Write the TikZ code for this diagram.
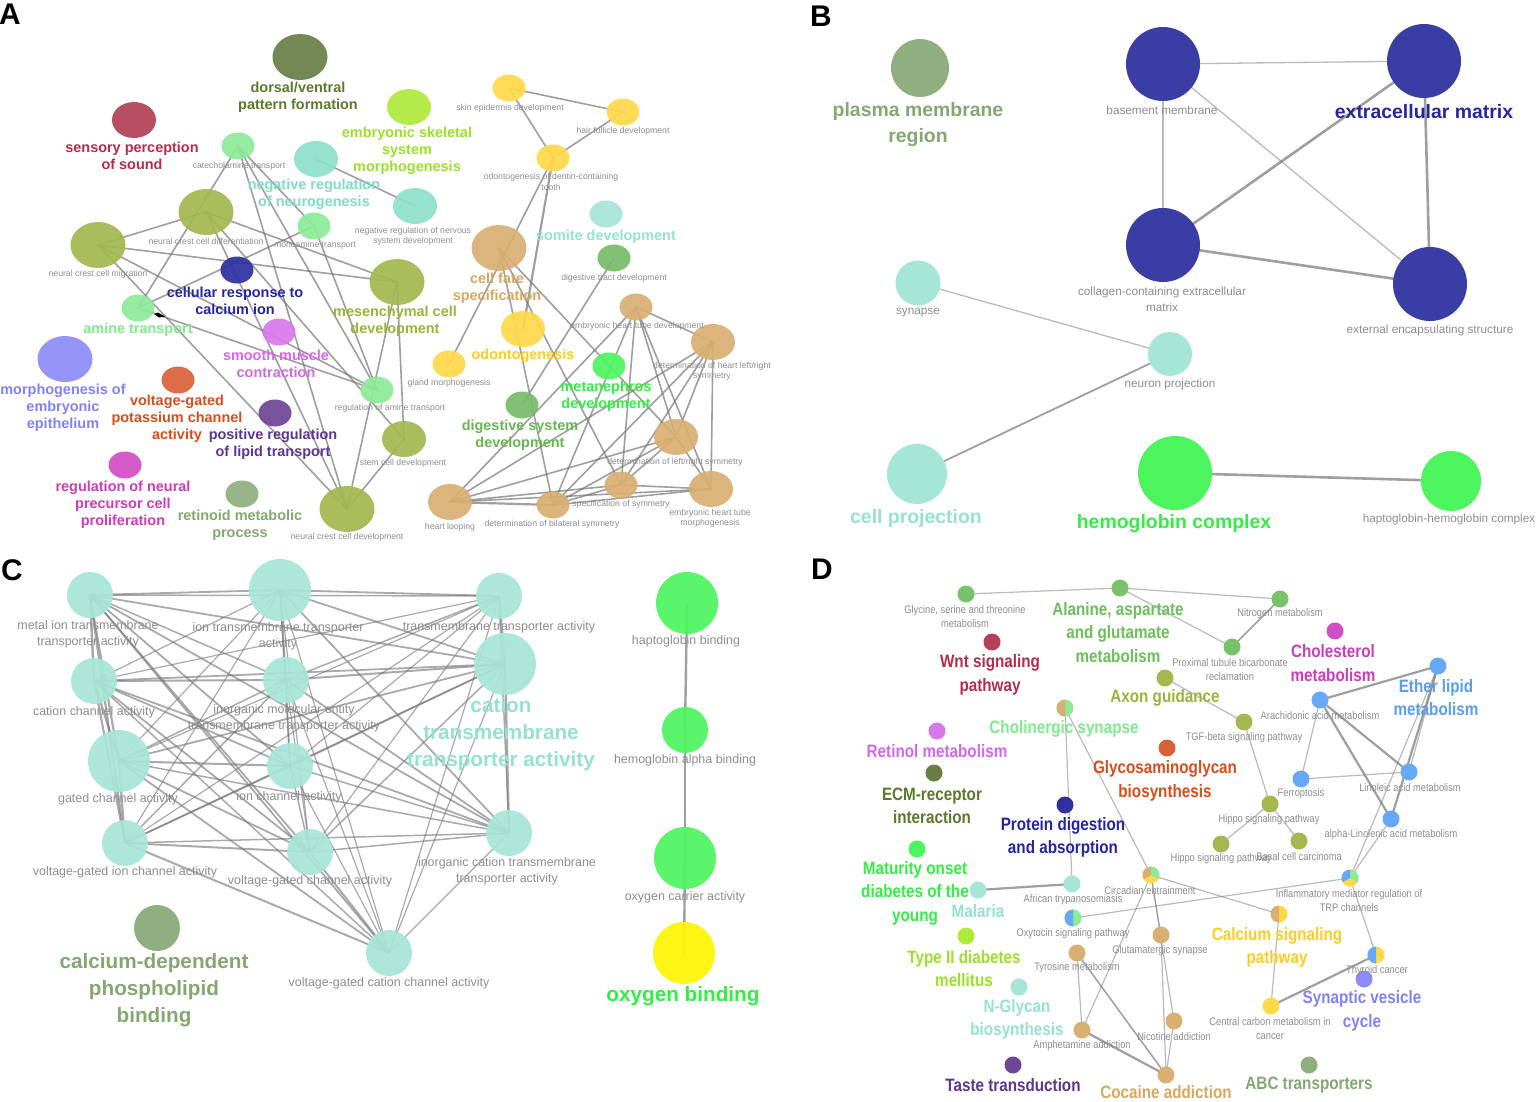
\documentclass[tikz,border=0pt]{standalone}
\usepackage{fontspec}
\setmainfont{Liberation Sans}
\newfontfamily\nar[FakeStretch=0.85]{Liberation Sans}
\usetikzlibrary{shapes.geometric}
\pgfdeclarelayer{bg}
\pgfdeclarelayer{paper}
\pgfsetlayers{paper,bg,main}
\definecolor{olv}{HTML}{A3B84F}\definecolor{olvT}{HTML}{9AB43C}
\definecolor{dol}{HTML}{6A7D45}\definecolor{dolT}{HTML}{5C7A2C}
\definecolor{crm}{HTML}{B24057}\definecolor{crmT}{HTML}{B02E4C}
\definecolor{lim}{HTML}{AEEA3C}\definecolor{limT}{HTML}{9CE02A}
\definecolor{lgr}{HTML}{8CEB98}\definecolor{lgrT}{HTML}{80EA8E}
\definecolor{aqu}{HTML}{8FE0C8}\definecolor{aquT}{HTML}{80DCC4}
\definecolor{pte}{HTML}{A6E6D6}\definecolor{pteT}{HTML}{96E2CF}
\definecolor{dbl}{HTML}{2E30A0}\definecolor{dblT}{HTML}{2626A0}
\definecolor{vio}{HTML}{D878EA}\definecolor{vioT}{HTML}{D468E8}
\definecolor{per}{HTML}{8C8CF8}\definecolor{perT}{HTML}{8282F2}
\definecolor{orr}{HTML}{D8613A}\definecolor{orrT}{HTML}{D64E1E}
\definecolor{pur}{HTML}{6F4596}\definecolor{purT}{HTML}{5E3590}
\definecolor{mag}{HTML}{D24EC4}\definecolor{magT}{HTML}{CC3CBC}
\definecolor{sag}{HTML}{8FAF80}\definecolor{sagT}{HTML}{84A872}
\definecolor{yel}{HTML}{FFD94A}\definecolor{yelT}{HTML}{FFCC22}
\definecolor{tnn}{HTML}{D9AF72}\definecolor{tnnT}{HTML}{D8A860}
\definecolor{grn}{HTML}{78BC68}\definecolor{grnT}{HTML}{66B852}
\definecolor{dgr}{HTML}{77C26A}\definecolor{dgrT}{HTML}{6CBF5A}
\definecolor{bgr}{HTML}{4CF55E}\definecolor{bgrT}{HTML}{33EE44}
\definecolor{oxy}{HTML}{FFF500}
\definecolor{dbu}{HTML}{68A8F8}\definecolor{dbuT}{HTML}{5A9EF0}
\definecolor{dbB}{HTML}{3A3DA3}
\definecolor{gtx}{HTML}{8E8E8E}
\definecolor{edg}{HTML}{777777}
\tikzset{
  bub/.style={ellipse, inner sep=0pt, outer sep=0pt, draw=none, fill opacity=0.92},
  bA/.style={bub, minimum width=55bp, minimum height=46bp},
  mA/.style={bub, minimum width=44bp, minimum height=36bp},
  sA/.style={bub, minimum width=33bp, minimum height=27bp},
  circ/.style={circle, inner sep=0pt, outer sep=0pt, draw=none, fill opacity=0.92, minimum size=#1bp},
  opq/.style={fill opacity=1},
  dn/.style={circ=17, opq},
  ed/.style={draw=edg, line width=#1bp, draw opacity=0.7, line cap=round},
  ed/.default=1.6,
  el/.style={draw=edg, line width=#1bp, draw opacity=0.5, line cap=round},
  el/.default=1.1,
  lA/.style={font=\fontsize{14.5}{17}\selectfont\bfseries, align=center, inner sep=0pt},
  tA/.style={font=\fontsize{8.7}{10.5}\selectfont, text=gtx, align=center, inner sep=0pt},
  lB/.style={font=\fontsize{19.5}{27}\selectfont\bfseries, align=center, inner sep=0pt},
  tB/.style={font=\fontsize{11.8}{16}\selectfont, text=gtx, align=center, inner sep=0pt},
  lC/.style={font=\fontsize{20.8}{27}\selectfont\bfseries, align=center, inner sep=0pt},
  tC/.style={font=\fontsize{12.5}{16}\selectfont, text=gtx, align=center, inner sep=0pt},
  lD/.style={font=\nar\bfseries\fontsize{18}{23.5}\selectfont, align=center, inner sep=0pt},
  tD/.style={font=\nar\fontsize{11}{14}\selectfont, text=gtx, align=center, inner sep=0pt},
  letter/.style={font=\fontsize{30}{30}\selectfont\bfseries, inner sep=0pt}
}
\begin{document}
\begin{tikzpicture}[x=1bp,y=-1bp]
\begin{pgfonlayer}{paper}
\fill[white] (0,0) rectangle (1536,1101);
\end{pgfonlayer}
\useasboundingbox (0,0) rectangle (1536,1101);
% ---------------- letters
\node[letter] (LetA) at (10,14) {A};
\node[letter] (LetB) at (821,16) {B};
\node[letter] (LetC) at (12,570) {C};
\node[letter] (LetD) at (822,569) {D};
% ---------------- panel A nodes
\node[bA, fill=dol] (dv) at (300,57) {};
\node[mA, fill=crm] (spos) at (134,120) {};
\node[mA, fill=lim] (ess) at (409,107) {};
\node[sA, fill=lgr] (cat) at (238,146) {};
\node[mA, fill=aqu] (nrn) at (316,159) {};
\node[mA, fill=aqu] (nrns) at (415,206) {};
\node[sA, fill=lgr] (mono) at (314,226) {};
\node[bA, fill=olv] (nccdiff) at (206,212) {};
\node[bA, fill=olv] (nccmig) at (98,245) {};
\node[sA, fill=dbl] (crc) at (237,270) {};
\node[sA, fill=lgr] (amine) at (138,308) {};
\node[bA, fill=olv] (mes) at (397,282) {};
\node[sA, fill=vio] (smc) at (279,332) {};
\node[bA, fill=per] (mee) at (65,359) {};
\node[sA, fill=orr] (vgk) at (178,380) {};
\node[sA, fill=pur] (prl) at (275,413) {};
\node[sA, fill=mag] (rnp) at (125,465) {};
\node[sA, fill=sag] (ret) at (242,494) {};
\node[sA, fill=lgr] (ram) at (377,390) {};
\node[mA, fill=olv] (scd) at (404,439) {};
\node[bA, fill=olv] (nccdev) at (347,509) {};
\node[sA, fill=yel] (skin) at (509,88) {};
\node[sA, fill=yel] (hair) at (623,112) {};
\node[sA, fill=yel] (dentin) at (553,158) {};
\node[sA, fill=pte] (somite) at (606,214) {};
\node[bA, fill=tnn] (cfs) at (499,248) {};
\node[sA, fill=grn] (dtd) at (614,258) {};
\node[mA, fill=yel] (odo) at (523,329) {};
\node[sA, fill=yel] (gland) at (449,364) {};
\node[sA, fill=tnn] (ehtd) at (636,307) {};
\node[mA, fill=tnn] (dhlr) at (713,342) {};
\node[sA, fill=bgr] (meta) at (609,366) {};
\node[sA, fill=grn] (dsd) at (522,405) {};
\node[mA, fill=tnn] (dlr) at (676,437) {};
\node[sA, fill=tnn] (spec) at (621,485) {};
\node[mA, fill=tnn] (ehtm) at (711,489) {};
\node[mA, fill=tnn] (hl) at (450,502) {};
\node[sA, fill=tnn] (dbs) at (553,505) {};
\fill[black] (154,314) -- (158,312.5) -- (165,316.5) -- (159,317.5) -- cycle;
% panel A labels
\node[lA, text=dolT] (Ldv) at (298,97.5) {dorsal/ventral\\pattern formation};
\node[lA, text=crmT] (Lspos) at (132,155.5) {sensory perception\\of sound};
\node[lA, text=limT] (Less) at (407,151) {embryonic skeletal\\system\\morphogenesis};
\node[tA] (Lcat) at (239,166) {catecholamine transport};
\node[lA, text=aquT] (Lnrn) at (314,194.5) {negative regulation\\of neurogenesis};
\node[tA] (Lnrns) at (413,236) {negative regulation of nervous\\system development};
\node[tA] (Lmono) at (315,245) {monoamine transport};
\node[tA] (Lnccdiff) at (206,241) {neural crest cell differentiation};
\node[tA] (Lnccmig) at (98,274) {neural crest cell migration};
\node[lA, text=dblT] (Lcrc) at (235,301) {cellular response to\\calcium ion};
\node[lA, text=lgrT] (Lamine) at (138,330) {amine transport};
\node[lA, text=olvT] (Lmes) at (395,321.5) {mesenchymal cell\\development};
\node[lA, text=vioT] (Lsmc) at (276,363.5) {smooth muscle\\contraction};
\node[lA, text=perT] (Lmee) at (63,408) {morphogenesis of\\embryonic\\epithelium};
\node[lA, text=orrT] (Lvgk) at (177,419) {voltage-gated\\potassium channel\\activity};
\node[lA, text=purT] (Lprl) at (273,444.5) {positive regulation\\of lipid transport};
\node[lA, text=magT] (Lrnp) at (123,504.5) {regulation of neural\\precursor cell\\proliferation};
\node[lA, text=sagT] (Lret) at (240,525.5) {retinoid metabolic\\process};
\node[tA] (Lram) at (390,408) {regulation of amine transport};
\node[tA] (Lscd) at (403,463) {stem cell development};
\node[tA] (Lnccdev) at (347,537) {neural crest cell development};
\node[tA] (Lskin) at (510,108) {skin epidermis development};
\node[tA] (Lhair) at (623,131) {hair follicle development};
\node[tA] (Ldentin) at (551,182) {odontogenesis of dentin-containing\\tooth};
\node[lA, text=pteT] (Lsomite) at (606,237) {somite development};
\node[lA, text=tnnT] (Lcfs) at (497,288.5) {cell fate\\specification};
\node[tA] (Ldtd) at (614,278) {digestive tract development};
\node[lA, text=yelT] (Lodo) at (523,356) {odontogenesis};
\node[tA] (Lgland) at (449,383) {gland morphogenesis};
\node[tA] (Lehtd) at (637,326) {embryonic heart tube development};
\node[tA] (Ldhlr) at (712,371.5) {determination of heart left/right\\symmetry};
\node[lA, text=bgrT] (Lmeta) at (606,396.5) {metanephros\\development};
\node[lA, text=grnT] (Ldsd) at (520,435.5) {digestive system\\development};
\node[tA] (Ldlr) at (675,462) {determination of left/right symmetry};
\node[tA] (Lspec) at (621,504) {specification of symmetry};
\node[tA] (Lehtm) at (710,518) {embryonic heart tube\\morphogenesis};
\node[tA] (Lhl) at (450,527) {heart looping};
\node[tA] (Ldbs) at (552,524) {determination of bilateral symmetry};
% ---------------- panel B
\node[circ=58, fill=sag, opq] (pmr) at (920,68) {};
\node[circ=74, fill=dbB, opq] (bm) at (1163,64) {};
\node[circ=74, fill=dbB, opq] (ecm) at (1424,61) {};
\node[circ=74, fill=dbB, opq] (col) at (1163,245) {};
\node[circ=74, fill=dbB, opq] (ext) at (1430,284) {};
\node[circ=45, fill=pte, opq] (syn) at (918,283) {};
\node[circ=44, fill=pte, opq] (np) at (1170,354) {};
\node[circ=60, fill=pte, opq] (cp) at (917,474) {};
\node[circ=74, fill=bgr, opq] (hc) at (1175,473) {};
\node[circ=60, fill=bgr, opq] (hhc) at (1451,481) {};
\node[lB, text=sagT] (Lpmr) at (918,124.5) {plasma membrane\\region};
\node[tB] (Lbm) at (1162,110) {basement membrane};
\node[lB, text=dblT] (Lecm) at (1424,112) {extracellular matrix};
\node[tB] (Lcol) at (1162,299) {collagen-containing extracellular\\matrix};
\node[tB] (Lext) at (1430,330) {external encapsulating structure};
\node[tB] (Lsyn) at (918,313) {synapse};
\node[tB] (Lnp) at (1170,384) {neuron projection};
\node[lB, text=pteT] (Lcp) at (916,518) {cell projection};
\node[lB, text=bgrT] (Lhc) at (1174,524) {hemoglobin complex};
\node[tB] (Lhhc) at (1449,519) {haptoglobin-hemoglobin complex};
% ---------------- panel C
\node[circ=46, fill=pte] (m) at (90,595) {};
\node[circ=62, fill=pte] (it) at (280,590) {};
\node[circ=46, fill=pte] (tt) at (499,596) {};
\node[circ=62, fill=pte] (ct) at (505,664) {};
\node[circ=46, fill=pte] (cc) at (94,681) {};
\node[circ=46, fill=pte] (im) at (286,680) {};
\node[circ=62, fill=pte] (gc) at (119,761) {};
\node[circ=46, fill=pte] (ic) at (290,766) {};
\node[circ=46, fill=pte] (ict) at (509,833) {};
\node[circ=46, fill=pte] (vgi) at (125,843) {};
\node[circ=46, fill=pte] (vgc) at (310,852) {};
\node[circ=46, fill=pte] (vgcc) at (389,953) {};
\node[circ=46, fill=sag, opq] (cdp) at (157,928) {};
\node[circ=62, fill=bgr] (hap) at (687,603) {};
\node[circ=46, fill=bgr] (hema) at (685,730) {};
\node[circ=62, fill=bgr] (oxc) at (685,858) {};
\node[circ=62, fill=oxy] (oxb) at (684,953) {};
\node[tC] (Lm) at (88,634) {metal ion transmembrane\\transporter activity};
\node[tC] (Lit) at (278,636) {ion transmembrane transporter\\activity};
\node[tC] (Ltt) at (499,627) {transmembrane transporter activity};
\node[lC, text=pteT] (Lct) at (501,734) {cation\\transmembrane\\transporter activity};
\node[tC] (Lcc) at (94,712) {cation channel activity};
\node[tC] (Lim) at (284,718.5) {inorganic molecular entity\\transmembrane transporter activity};
\node[tC] (Lgc) at (118,799) {gated channel activity};
\node[tC] (Lic) at (289,797) {ion channel activity};
\node[tC] (Lict) at (507,871) {inorganic cation transmembrane\\transporter activity};
\node[tC] (Lvgi) at (125,872) {voltage-gated ion channel activity};
\node[tC] (Lvgc) at (310,881) {voltage-gated channel activity};
\node[tC] (Lvgcc) at (389,983) {voltage-gated cation channel activity};
\node[lC, text=sagT] (Lcdp) at (154,990) {calcium-dependent\\phospholipid\\binding};
\node[tC] (Lhap) at (686,641) {haptoglobin binding};
\node[tC] (Lhema) at (685,760) {hemoglobin alpha binding};
\node[tC] (Loxc) at (685,897) {oxygen carrier activity};
\node[lC, text=bgrT] (Loxb) at (683,996) {oxygen binding};
% ---------------- panel D nodes
\node[dn, fill=dgr] (gly) at (966,594) {};
\node[dn, fill=dgr] (ala) at (1120,588) {};
\node[dn, fill=dgr] (nit) at (1280,599) {};
\node[dn, fill=dgr] (prox) at (1232,647) {};
\node[dn, fill=crm] (wnt) at (992,642) {};
\node[dn, fill=mag] (chs) at (1335,631) {};
\node[dn, fill=olv] (axon) at (1165,678) {};
\node[dn, fill=dbu] (eth) at (1438,666) {};
\node[dn, fill=lgr] (chol) at (1065,708) {};
\node[dn, fill=dbu] (arach) at (1320,700) {};
\node[dn, fill=olv] (tgf) at (1244,722) {};
\node[dn, fill=vio] (retn) at (937,731) {};
\node[dn, fill=orr] (gag) at (1167,748) {};
\node[dn, fill=dol] (ecmr) at (934,773) {};
\node[dn, fill=dbu] (ferro) at (1301,779) {};
\node[dn, fill=dbu] (lino) at (1409,772) {};
\node[dn, fill=dbl] (prot) at (1065,805) {};
\node[dn, fill=olv] (hip1) at (1270,804) {};
\node[dn, fill=dbu] (alin) at (1391,819) {};
\node[dn, fill=bgr] (mod) at (917,849) {};
\node[dn, fill=olv] (hip2) at (1221,844) {};
\node[dn, fill=olv] (basal) at (1299,841) {};
\node[dn, fill=yel] (circ) at (1151,875) {};
\node[dn, fill=yel] (infl) at (1350,878) {};
\node[dn, fill=pte] (mal) at (978,890) {};
\node[dn, fill=pte] (afr) at (1072,884) {};
\node[dn, fill=lgr] (oxyt) at (1073,918) {};
\node[dn, fill=yel] (calc) at (1279,914) {};
\node[dn, fill=lim] (t2d) at (966,936) {};
\node[dn, fill=tnn] (glut) at (1161,935) {};
\node[dn, fill=tnn] (tyr) at (1077,953) {};
\node[dn, fill=yel] (thy) at (1376,955) {};
\node[dn, fill=per] (svc) at (1364,979) {};
\node[dn, fill=pte] (ngly) at (1019,987) {};
\node[dn, fill=yel] (ccm) at (1271,1006) {};
\node[dn, fill=tnn] (nic) at (1174,1021) {};
\node[dn, fill=tnn] (amph) at (1082,1030) {};
\node[dn, fill=pur] (taste) at (1013,1065) {};
\node[dn, fill=tnn] (coc) at (1166,1075) {};
\node[dn, fill=sag] (abc) at (1309,1065) {};
% pie sectors
\fill[tnn] (chol.center) -- ++(90:8.5) arc[start angle=90, end angle=270, radius=8.5] -- cycle;
\fill[dbu] (oxyt.center) -- ++(90:8.5) arc[start angle=90, end angle=270, radius=8.5] -- cycle;
\fill[tnn] (calc.center) -- ++(90:8.5) arc[start angle=90, end angle=270, radius=8.5] -- cycle;
\fill[dbu] (thy.center) -- ++(90:8.5) arc[start angle=90, end angle=270, radius=8.5] -- cycle;
\fill[tnn] (circ.center) -- ++(150:8.5) arc[start angle=150, end angle=270, radius=8.5] -- cycle;
\fill[lgr] (circ.center) -- ++(270:8.5) arc[start angle=270, end angle=390, radius=8.5] -- cycle;
\fill[dbu] (infl.center) -- ++(150:8.5) arc[start angle=150, end angle=270, radius=8.5] -- cycle;
\fill[lgr] (infl.center) -- ++(270:8.5) arc[start angle=270, end angle=390, radius=8.5] -- cycle;
% panel D labels
\node[tD] (Lgly) at (965,616.5) {Glycine, serine and threonine\\metabolism};
\node[lD, text=dgrT] (Lala) at (1118,632.5) {Alanine, aspartate\\and glutamate\\metabolism};
\node[tD] (Lnit) at (1280,614) {Nitrogen metabolism};
\node[tD] (Lprox) at (1230,670) {Proximal tubule bicarbonate\\reclamation};
\node[lD, text=crmT] (Lwnt) at (990,675) {Wnt signaling\\pathway};
\node[lD, text=magT] (Lchs) at (1333,663) {Cholesterol\\metabolism};
\node[lD, text=olvT] (Laxon) at (1165,698) {Axon guidance};
\node[lD, text=dbuT] (Leth) at (1436,697.5) {Ether lipid\\metabolism};
\node[lD, text=lgrT] (Lchol) at (1064,729) {Cholinergic synapse};
\node[tD] (Larach) at (1320,716) {Arachidonic acid metabolism};
\node[tD] (Ltgf) at (1244,738) {TGF-beta signaling pathway};
\node[lD, text=vioT] (Lretn) at (937,751) {Retinol metabolism};
\node[lD, text=orrT] (Lgag) at (1165,781) {Glycosaminoglycan\\biosynthesis};
\node[lD, text=dolT] (Lecmr) at (932,806) {ECM-receptor\\interaction};
\node[tD] (Lferro) at (1301,794) {Ferroptosis};
\node[tD] (Llino) at (1410,788) {Linoleic acid metabolism};
\node[lD, text=dblT] (Lprot) at (1063,837.5) {Protein digestion\\and absorption};
\node[tD] (Lhip1) at (1269,820) {Hippo signaling pathway};
\node[tD] (Lalin) at (1391,835) {alpha-Linolenic acid metabolism};
\node[lD, text=bgrT] (Lmod) at (915,893) {Maturity onset\\diabetes of the\\young};
\node[tD] (Lhip2) at (1221,859) {Hippo signaling pathway};
\node[tD] (Lbasal) at (1299,857) {Basal cell carcinoma};
\node[tD] (Lcirc) at (1150,891) {Circadian entrainment};
\node[tD] (Linfl) at (1349,900.5) {Inflammatory mediator regulation of\\TRP channels};
\node[lD, text=pteT] (Lmal) at (978,911) {Malaria};
\node[tD] (Lafr) at (1073,900) {African trypanosomiasis};
\node[tD] (Loxy) at (1073,934) {Oxytocin signaling pathway};
\node[lD, text=yelT] (Lcalc) at (1277,947.5) {Calcium signaling\\pathway};
\node[lD, text=limT] (Lt2d) at (964,968.5) {Type II diabetes\\mellitus};
\node[tD] (Lglut) at (1160,951) {Glutamatergic synapse};
\node[tD] (Ltyr) at (1077,968) {Tyrosine metabolism};
\node[tD] (Lthy) at (1377,971) {Thyroid cancer};
\node[lD, text=perT] (Lsvc) at (1362,1011) {Synaptic vesicle\\cycle};
\node[lD, text=pteT] (Lngly) at (1017,1019.5) {N-Glycan\\biosynthesis};
\node[tD] (Lccm) at (1270,1029) {Central carbon metabolism in\\cancer};
\node[tD] (Lnic) at (1174,1037) {Nicotine addiction};
\node[tD] (Lamph) at (1082,1046) {Amphetamine addiction};
\node[lD, text=purT] (Ltaste) at (1013,1085) {Taste transduction};
\node[lD, text=tnnT] (Lcoc) at (1166,1092) {Cocaine addiction};
\node[lD, text=sagT] (Labc) at (1309,1085) {ABC transporters};
% ================= edges on background
\begin{pgfonlayer}{bg}
% panel A
\foreach \a/\b in {nccmig/nccdiff, nccmig/mes, nccmig/ram, nccmig/nccdev, nccdiff/mes, nccdiff/nccdev, nccdiff/scd,
  cat/amine, cat/mono, cat/ram, cat/nccdev, mono/amine, mono/ram, amine/ram, mes/scd, mes/nccdev, scd/nccdev, nrn/nrns,
  skin/hair, skin/dentin, hair/dentin, dentin/gland, cfs/dbs, cfs/spec, cfs/dlr, dtd/dsd,
  hl/ehtd, hl/dhlr, hl/dlr, hl/spec, hl/ehtm, dbs/ehtd, dbs/dhlr, dbs/dlr, dbs/spec, dbs/ehtm,
  spec/ehtd, spec/dhlr, spec/dlr, spec/ehtm, dlr/ehtd, dlr/dhlr, dlr/ehtm, ehtd/dhlr, ehtd/ehtm, dhlr/ehtm}
  \draw[ed] (\a.center) -- (\b.center);
\draw[ed=2.2] (dentin.center) -- (odo.center);
\draw[ed=2.2] (hl.center) -- (dbs.center);
% panel B
\foreach \a/\b in {bm/ecm, bm/col, bm/ext, syn/np} \draw[el=1.3] (\a.center) -- (\b.center);
\foreach \a/\b in {ecm/col, ecm/ext, col/ext, hc/hhc} \draw[ed=2.6] (\a.center) -- (\b.center);
\draw[ed=1.8] (np.center) -- (cp.center);
% panel C
\foreach \a/\b/\w in {m/it/1.8, m/tt/1.5, m/ct/1.8, m/cc/2.4, m/im/1.5, m/gc/2.2, m/ic/1.8, m/ict/1.8, m/vgi/2.2, m/vgc/1.8, m/vgcc/1.8,
  it/tt/1.8, it/ct/1.8, it/cc/1.2, it/im/2, it/gc/1.2, it/ic/1.5, it/ict/1.8, it/vgi/1.2, it/vgc/1.2, it/vgcc/1.2,
  tt/ct/2.2, tt/cc/1.2, tt/im/1.5, tt/gc/1.2, tt/ic/1.2, tt/ict/1.5, tt/vgi/1.2, tt/vgc/1.2, tt/vgcc/1.2,
  ct/cc/1.8, ct/im/2, ct/gc/1.8, ct/ic/1.8, ct/ict/2.4, ct/vgi/1.5, ct/vgc/1.5, ct/vgcc/1.2,
  cc/im/2, cc/gc/2.2, cc/ic/1.8, cc/ict/1.8, cc/vgi/2.2, cc/vgc/1.8, cc/vgcc/1.5,
  im/gc/1.5, im/ic/1.5, im/ict/1.8, im/vgi/1.5, im/vgc/1.2, im/vgcc/1.2,
  gc/ic/2, gc/ict/1.5, gc/vgi/2.2, gc/vgc/1.8, gc/vgcc/1.8,
  ic/ict/1.5, ic/vgi/1.8, ic/vgc/1.5, ic/vgcc/1.2,
  ict/vgi/1.5, ict/vgc/1.5, ict/vgcc/1.2, vgi/vgc/2, vgi/vgcc/2, vgc/vgcc/2}
  \draw[draw=edg, line width=\w bp, draw opacity=0.62] (\a.center) -- (\b.center);
\foreach \a/\b in {hap/hema, hema/oxc, oxc/oxb} \draw[ed=2.4] (\a.center) -- (\b.center);
% panel D
\foreach \a/\b in {gly/ala, ala/nit, ala/prox, axon/tgf, tgf/hip1, hip1/hip2, hip1/basal, arach/ferro, ferro/lino, eth/lino,
  eth/infl, alin/infl, chol/afr, chol/circ, oxyt/infl, circ/calc, circ/amph, circ/glut, circ/nic, glut/coc, nic/coc,
  tyr/amph, calc/ccm, thy/infl}
  \draw[el=1.2] (\a.center) -- (\b.center);
\draw[ed=1.5] (nit.center) -- (prox.center);
\draw[ed=1.5] (tyr.center) -- (coc.center);
\foreach \a/\b in {arach/eth, arach/lino, arach/alin, eth/alin, mal/afr, amph/coc, ccm/thy}
  \draw[ed=2.2] (\a.center) -- (\b.center);
\end{pgfonlayer}
\end{tikzpicture}
\end{document}
